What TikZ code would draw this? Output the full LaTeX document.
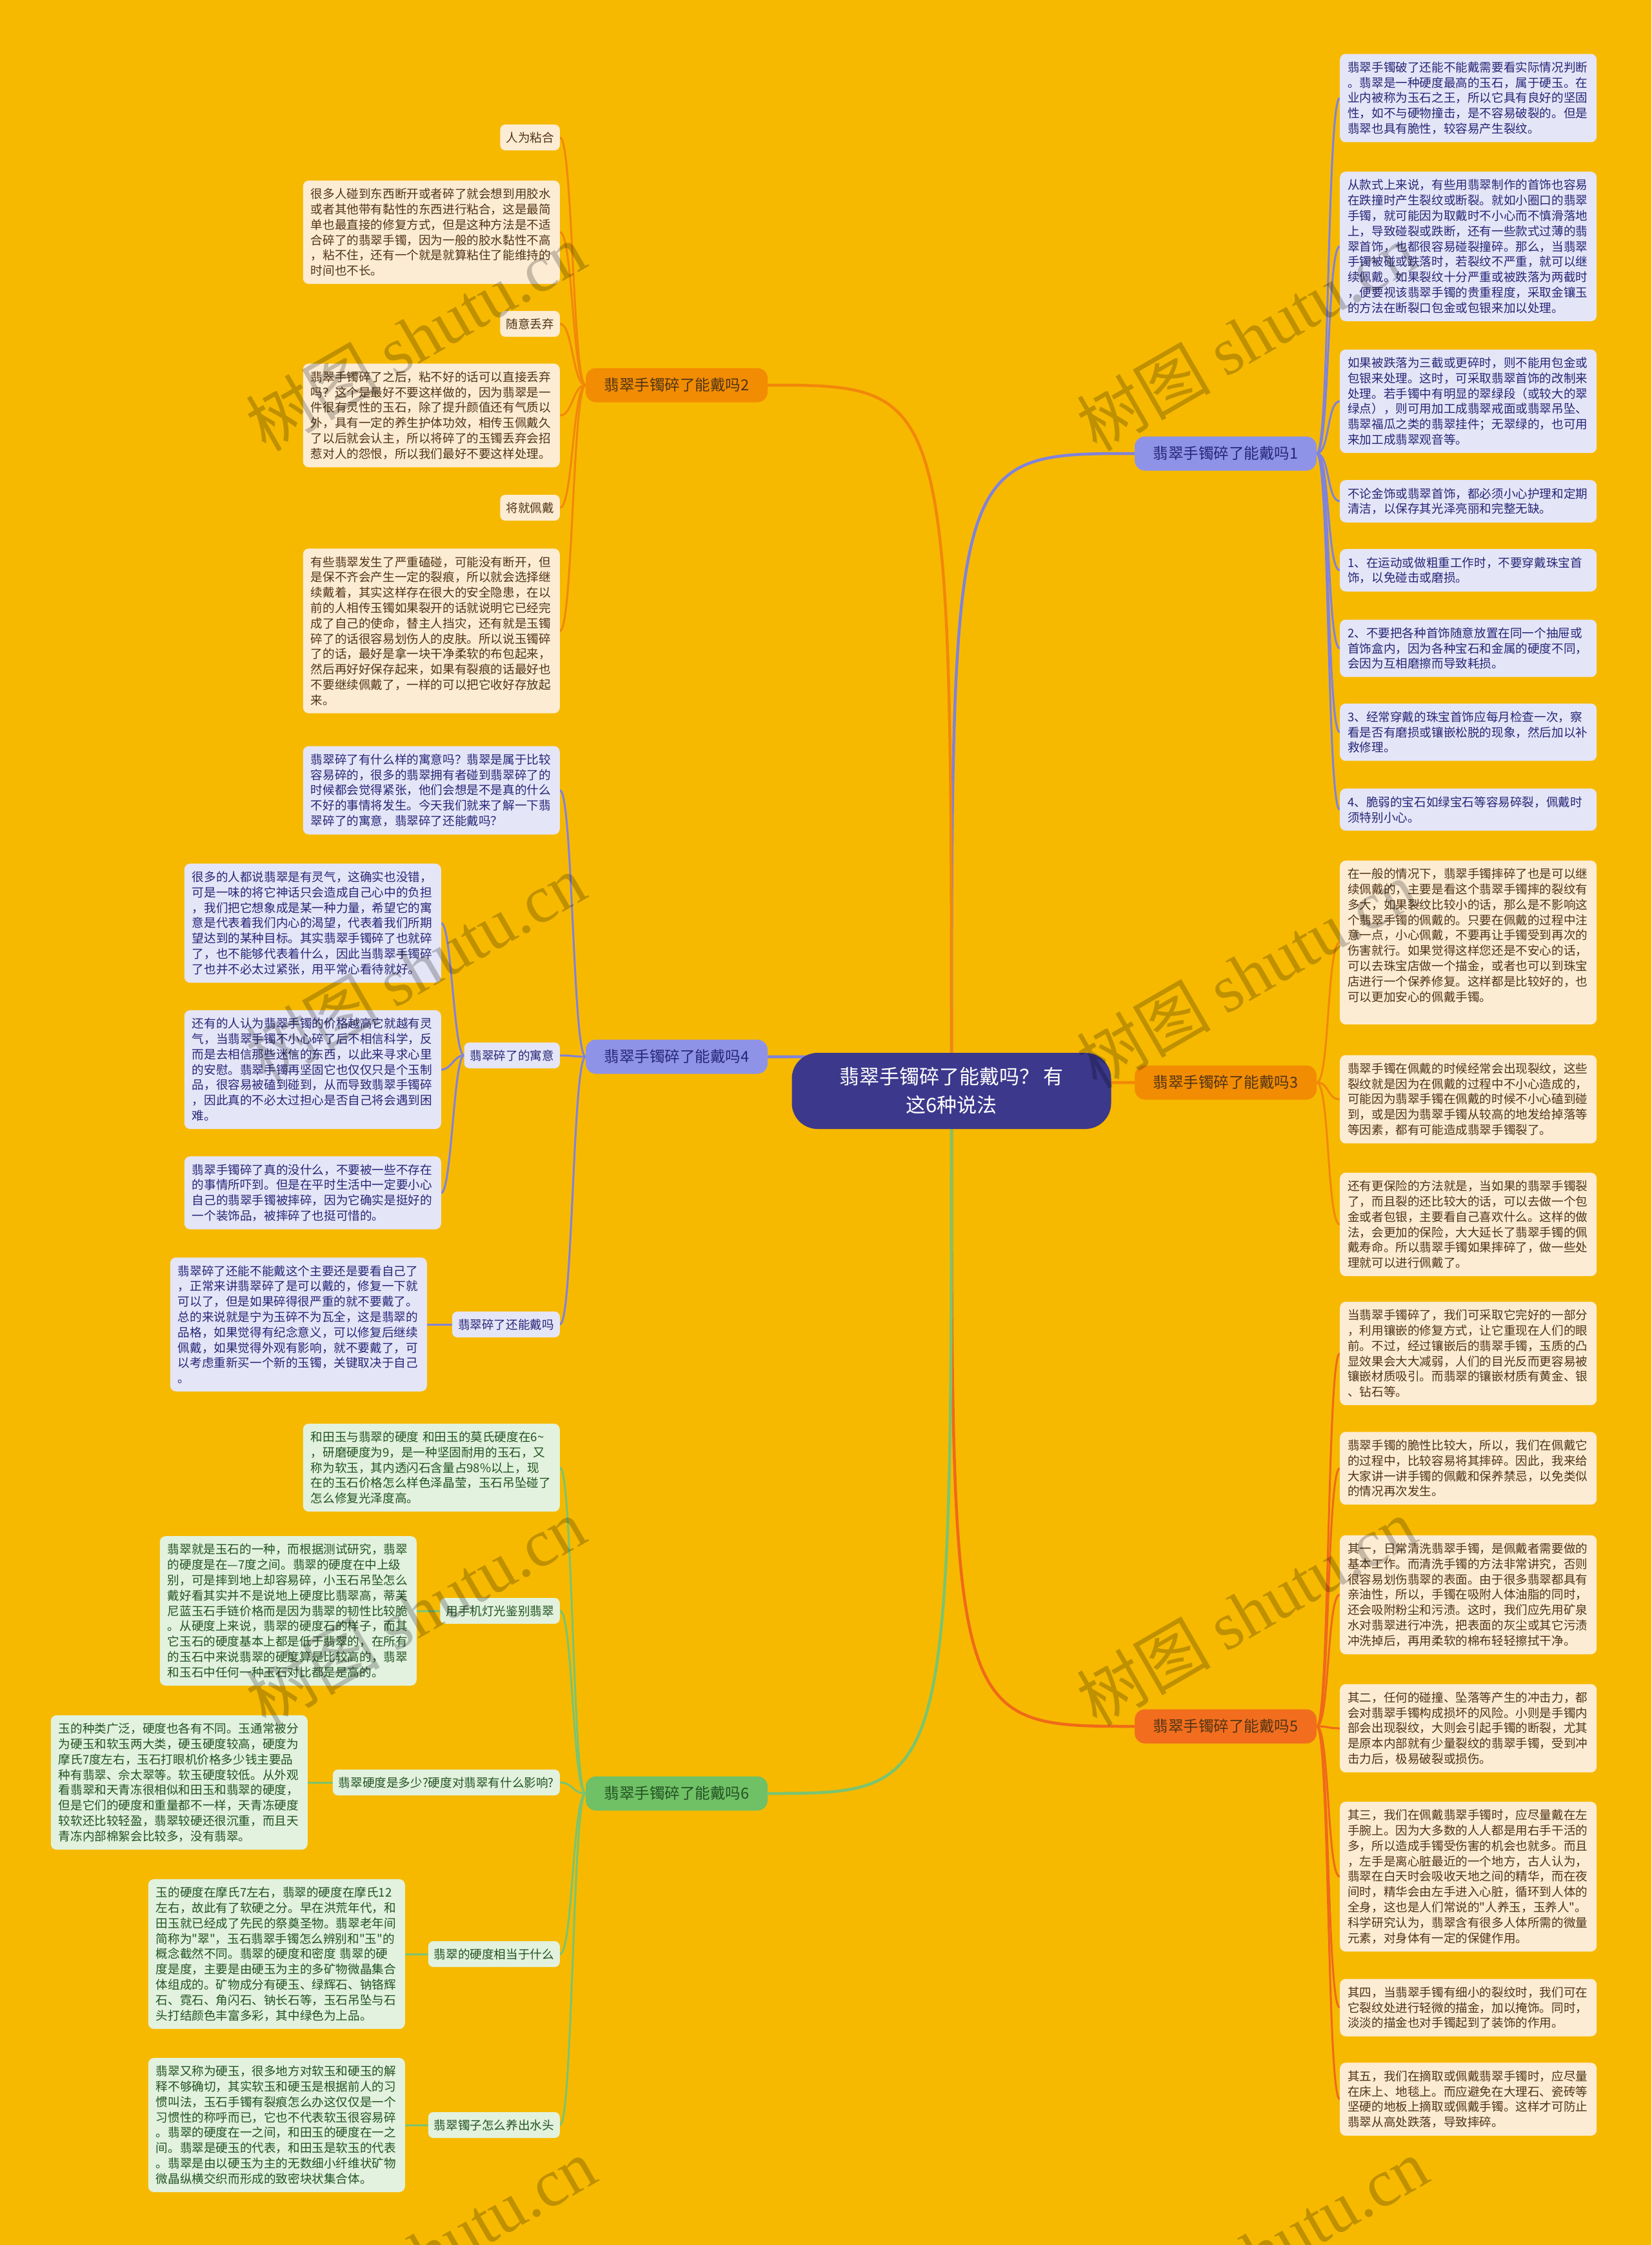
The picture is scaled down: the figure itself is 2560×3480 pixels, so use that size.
\documentclass[tikz,border=0pt]{standalone}
\usepackage{fontspec}
\setmainfont{Noto Sans CJK SC}[Ligatures=TeXOff]
\newfontfamily\wmlatin{Liberation Serif}
\usetikzlibrary{backgrounds}

\definecolor{bgyellow}{RGB}{246,185,0}
\definecolor{hubfill}{RGB}{60,56,140}
\definecolor{bluefill}{RGB}{143,147,232}
\definecolor{blueline}{RGB}{128,130,220}
\definecolor{blueleaf}{RGB}{229,229,248}
\definecolor{bluetext}{RGB}{38,38,118}
\definecolor{orangefill}{RGB}{242,140,2}
\definecolor{orangeline}{RGB}{242,135,10}
\definecolor{redfill}{RGB}{242,110,30}
\definecolor{redline}{RGB}{240,105,25}
\definecolor{peachleaf}{RGB}{253,236,212}
\definecolor{browntext}{RGB}{80,52,22}
\definecolor{greenfill}{RGB}{112,192,102}
\definecolor{greenline}{RGB}{122,196,112}
\definecolor{greenleaf}{RGB}{226,242,222}
\definecolor{greentext}{RGB}{34,82,34}

\newcommand{\leaffont}{\fontsize{18.6}{23.8}\selectfont}
\newcommand{\topicfont}{\fontsize{23.5}{28}\selectfont}
\newcommand{\hubfont}{\fontsize{31}{44}\selectfont}
\newcommand{\wmfont}{\fontsize{104}{104}\selectfont}

\begin{document}
\begin{tikzpicture}[
  x=1pt, y=-1pt,
  leaf/.style={rounded corners=9pt, text width=374pt, inner xsep=12pt, inner ysep=12pt, align=left, font=\leaffont},
  bleaf/.style={leaf, fill=blueleaf, text=bluetext},
  oleaf/.style={leaf, fill=peachleaf, text=browntext},
  gleaf/.style={leaf, fill=greenleaf, text=greentext},
  tag/.style={rounded corners=8pt, inner xsep=9pt, inner ysep=0pt, minimum height=40pt, font=\leaffont},
  btag/.style={tag, fill=blueleaf, text=bluetext},
  otag/.style={tag, fill=peachleaf, text=browntext},
  gtag/.style={tag, fill=greenleaf, text=greentext},
  topic/.style={rounded corners=16pt, minimum width=282pt, minimum height=53pt, inner sep=0pt, font=\topicfont},
  hub/.style={rounded corners=40pt, minimum width=495pt, minimum height=118pt, inner sep=0pt, fill=hubfill, text=white, align=center, font=\hubfont},
  trunk/.style={line width=4.5pt},
  twig/.style={line width=3pt},
  wm/.style={rotate=30, text=black, opacity=0.22, font=\wmfont}
]
\useasboundingbox (0,0) rectangle (2560,3480);
% Root and topics
\node[hub] (root) at (1475,1691) {翡翠手镯碎了能戴吗？ 有\\这6种说法};
\node[topic, fill=bluefill, text=bluetext] (br1) at (1900,703) {翡翠手镯碎了能戴吗1};
\node[topic, fill=orangefill, text=browntext] (br3) at (1900,1678) {翡翠手镯碎了能戴吗3};
\node[topic, fill=redfill, text=browntext] (br5) at (1900,2676) {翡翠手镯碎了能戴吗5};
\node[topic, fill=orangefill, text=browntext] (br2) at (1049,597) {翡翠手镯碎了能戴吗2};
\node[topic, fill=bluefill, text=bluetext] (br4) at (1049,1638) {翡翠手镯碎了能戴吗4};
\node[topic, fill=greenfill, text=greentext] (br6) at (1049,2780) {翡翠手镯碎了能戴吗6};
% Topic 1
\node[bleaf, anchor=west] (b1) at (2077,152) {翡翠手镯破了还能不能戴需要看实际情况判断\\。翡翠是一种硬度最高的玉石，属于硬玉。在\\业内被称为玉石之王，所以它具有良好的坚固\\性，如不与硬物撞击，是不容易破裂的。但是\\翡翠也具有脆性，较容易产生裂纹。};
\node[bleaf, anchor=west] (b2) at (2077,382) {从款式上来说，有些用翡翠制作的首饰也容易\\在跌撞时产生裂纹或断裂。就如小圈口的翡翠\\手镯，就可能因为取戴时不小心而不慎滑落地\\上，导致碰裂或跌断，还有一些款式过薄的翡\\翠首饰，也都很容易碰裂撞碎。那么，当翡翠\\手镯被碰或跌落时，若裂纹不严重，就可以继\\续佩戴。如果裂纹十分严重或被跌落为两截时\\，便要视该翡翠手镯的贵重程度，采取金镶玉\\的方法在断裂口包金或包银来加以处理。};
\node[bleaf, anchor=west] (b3) at (2077,622) {如果被跌落为三截或更碎时，则不能用包金或\\包银来处理。这时，可采取翡翠首饰的改制来\\处理。若手镯中有明显的翠绿段（或较大的翠\\绿点），则可用加工成翡翠戒面或翡翠吊坠、\\翡翠福瓜之类的翡翠挂件；无翠绿的，也可用\\来加工成翡翠观音等。};
\node[bleaf, anchor=west] (b4) at (2077,777) {不论金饰或翡翠首饰，都必须小心护理和定期\\清洁，以保存其光泽亮丽和完整无缺。};
\node[bleaf, anchor=west] (b5) at (2077,884) {1、在运动或做粗重工作时，不要穿戴珠宝首\\饰，以免碰击或磨损。};
\node[bleaf, anchor=west] (b6) at (2077,1005) {2、不要把各种首饰随意放置在同一个抽屉或\\首饰盒内，因为各种宝石和金属的硬度不同，\\会因为互相磨擦而导致耗损。};
\node[bleaf, anchor=west] (b7) at (2077,1135) {3、经常穿戴的珠宝首饰应每月检查一次，察\\看是否有磨损或镶嵌松脱的现象，然后加以补\\救修理。};
\node[bleaf, anchor=west] (b8) at (2077,1255) {4、脆弱的宝石如绿宝石等容易碎裂，佩戴时\\须特别小心。};
% Topic 3
\node[oleaf, anchor=west] (o1) at (2077,1461) {在一般的情况下，翡翠手镯摔碎了也是可以继\\续佩戴的，主要是看这个翡翠手镯摔的裂纹有\\多大，如果裂纹比较小的话，那么是不影响这\\个翡翠手镯的佩戴的。只要在佩戴的过程中注\\意一点，小心佩戴，不要再让手镯受到再次的\\伤害就行。如果觉得这样您还是不安心的话，\\可以去珠宝店做一个描金，或者也可以到珠宝\\店进行一个保养修复。这样都是比较好的，也\\可以更加安心的佩戴手镯。\\\mbox{}};
\node[oleaf, anchor=west] (o2) at (2077,1704) {翡翠手镯在佩戴的时候经常会出现裂纹，这些\\裂纹就是因为在佩戴的过程中不小心造成的，\\可能因为翡翠手镯在佩戴的时候不小心磕到碰\\到，或是因为翡翠手镯从较高的地发给掉落等\\等因素，都有可能造成翡翠手镯裂了。};
\node[oleaf, anchor=west] (o3) at (2077,1898) {还有更保险的方法就是，当如果的翡翠手镯裂\\了，而且裂的还比较大的话，可以去做一个包\\金或者包银，主要看自己喜欢什么。这样的做\\法，会更加的保险，大大延长了翡翠手镯的佩\\戴寿命。所以翡翠手镯如果摔碎了，做一些处\\理就可以进行佩戴了。};
% Topic 5
\node[oleaf, anchor=west] (r1) at (2077,2098) {当翡翠手镯碎了，我们可采取它完好的一部分\\，利用镶嵌的修复方式，让它重现在人们的眼\\前。不过，经过镶嵌后的翡翠手镯，玉质的凸\\显效果会大大减弱，人们的目光反而更容易被\\镶嵌材质吸引。而翡翠的镶嵌材质有黄金、银\\、钻石等。};
\node[oleaf, anchor=west] (r2) at (2077,2276) {翡翠手镯的脆性比较大，所以，我们在佩戴它\\的过程中，比较容易将其摔碎。因此，我来给\\大家讲一讲手镯的佩戴和保养禁忌，以免类似\\的情况再次发生。};
\node[oleaf, anchor=west] (r3) at (2077,2472) {其一，日常清洗翡翠手镯，是佩戴者需要做的\\基本工作。而清洗手镯的方法非常讲究，否则\\很容易划伤翡翠的表面。由于很多翡翠都具有\\亲油性，所以，手镯在吸附人体油脂的同时，\\还会吸附粉尘和污渍。这时，我们应先用矿泉\\水对翡翠进行冲洗，把表面的灰尘或其它污渍\\冲洗掉后，再用柔软的棉布轻轻擦拭干净。};
\node[oleaf, anchor=west] (r4) at (2077,2679) {其二，任何的碰撞、坠落等产生的冲击力，都\\会对翡翠手镯构成损坏的风险。小则是手镯内\\部会出现裂纹，大则会引起手镯的断裂，尤其\\是原本内部就有少量裂纹的翡翠手镯，受到冲\\击力后，极易破裂或损伤。};
\node[oleaf, anchor=west] (r5) at (2077,2909) {其三，我们在佩戴翡翠手镯时，应尽量戴在左\\手腕上。因为大多数的人人都是用右手干活的\\多，所以造成手镯受伤害的机会也就多。而且\\，左手是离心脏最近的一个地方，古人认为，\\翡翠在白天时会吸收天地之间的精华，而在夜\\间时，精华会由左手进入心脏，循环到人体的\\全身，这也是人们常说的"人养玉，玉养人"。\\科学研究认为，翡翠含有很多人体所需的微量\\元素，对身体有一定的保健作用。};
\node[oleaf, anchor=west] (r6) at (2077,3112) {其四，当翡翠手镯有细小的裂纹时，我们可在\\它裂纹处进行轻微的描金，加以掩饰。同时，\\淡淡的描金也对手镯起到了装饰的作用。};
\node[oleaf, anchor=west] (r7) at (2077,3254) {其五，我们在摘取或佩戴翡翠手镯时，应尽量\\在床上、地毯上。而应避免在大理石、瓷砖等\\坚硬的地板上摘取或佩戴手镯。这样才可防止\\翡翠从高处跌落，导致摔碎。};
% Topic 2
\node[otag, anchor=east] (t1) at (868,213) {人为粘合};
\node[oleaf, anchor=east] (l1) at (868,360) {很多人碰到东西断开或者碎了就会想到用胶水\\或者其他带有黏性的东西进行粘合，这是最简\\单也最直接的修复方式，但是这种方法是不适\\合碎了的翡翠手镯，因为一般的胶水黏性不高\\，粘不住，还有一个就是就算粘住了能维持的\\时间也不长。};
\node[otag, anchor=east] (t2) at (868,502) {随意丢弃};
\node[oleaf, anchor=east] (l2) at (868,644) {翡翠手镯碎了之后，粘不好的话可以直接丢弃\\吗？这个是最好不要这样做的，因为翡翠是一\\件很有灵性的玉石，除了提升颜值还有气质以\\外，具有一定的养生护体功效，相传玉佩戴久\\了以后就会认主，所以将碎了的玉镯丢弃会招\\惹对人的怨恨，所以我们最好不要这样处理。};
\node[otag, anchor=east] (t3) at (868,787) {将就佩戴};
\node[oleaf, anchor=east] (l3) at (868,978) {有些翡翠发生了严重磕碰，可能没有断开，但\\是保不齐会产生一定的裂痕，所以就会选择继\\续戴着，其实这样存在很大的安全隐患，在以\\前的人相传玉镯如果裂开的话就说明它已经完\\成了自己的使命，替主人挡灾，还有就是玉镯\\碎了的话很容易划伤人的皮肤。所以说玉镯碎\\了的话，最好是拿一块干净柔软的布包起来，\\然后再好好保存起来，如果有裂痕的话最好也\\不要继续佩戴了，一样的可以把它收好存放起\\来。};
% Topic 4
\node[bleaf, anchor=east] (q1) at (868,1225) {翡翠碎了有什么样的寓意吗？翡翠是属于比较\\容易碎的，很多的翡翠拥有者碰到翡翠碎了的\\时候都会觉得紧张，他们会想是不是真的什么\\不好的事情将发生。今天我们就来了解一下翡\\翠碎了的寓意，翡翠碎了还能戴吗？};
\node[btag, anchor=east] (yp) at (868,1636) {翡翠碎了的寓意};
\node[bleaf, anchor=east] (k1) at (684,1431) {很多的人都说翡翠是有灵气，这确实也没错，\\可是一味的将它神话只会造成自己心中的负担\\，我们把它想象成是某一种力量，希望它的寓\\意是代表着我们内心的渴望，代表着我们所期\\望达到的某种目标。其实翡翠手镯碎了也就碎\\了，也不能够代表着什么，因此当翡翠手镯碎\\了也并不必太过紧张，用平常心看待就好。};
\node[bleaf, anchor=east] (k2) at (684,1658) {还有的人认为翡翠手镯的价格越高它就越有灵\\气，当翡翠手镯不小心碎了后不相信科学，反\\而是去相信那些迷信的东西，以此来寻求心里\\的安慰。翡翠手镯再坚固它也仅仅只是个玉制\\品，很容易被磕到碰到，从而导致翡翠手镯碎\\，因此真的不必太过担心是否自己将会遇到困\\难。};
\node[bleaf, anchor=east] (k3) at (684,1849) {翡翠手镯碎了真的没什么，不要被一些不存在\\的事情所吓到。但是在平时生活中一定要小心\\自己的翡翠手镯被摔碎，因为它确实是挺好的\\一个装饰品，被摔碎了也挺可惜的。};
\node[btag, anchor=east] (yc) at (868,2053) {翡翠碎了还能戴吗};
\node[bleaf, anchor=east] (w1) at (662,2053) {翡翠碎了还能不能戴这个主要还是要看自己了\\，正常来讲翡翠碎了是可以戴的，修复一下就\\可以了，但是如果碎得很严重的就不要戴了。\\总的来说就是宁为玉碎不为瓦全，这是翡翠的\\品格，如果觉得有纪念意义，可以修复后继续\\佩戴，如果觉得外观有影响，就不要戴了，可\\以考虑重新买一个新的玉镯，关键取决于自己\\。};
% Topic 6
\node[gleaf, anchor=east] (g1) at (868,2275) {和田玉与翡翠的硬度 和田玉的莫氏硬度在6\textasciitilde\\，研磨硬度为9，是一种坚固耐用的玉石，又\\称为软玉，其内透闪石含量占98\%以上，现\\在的玉石价格怎么样色泽晶莹，玉石吊坠碰了\\怎么修复光泽度高。};
\node[gtag, anchor=east] (gt1) at (868,2497) {用手机灯光鉴别翡翠};
\node[gleaf, anchor=east] (g2) at (646,2497) {翡翠就是玉石的一种，而根据测试研究，翡翠\\的硬度是在—7度之间。翡翠的硬度在中上级\\别，可是摔到地上却容易碎，小玉石吊坠怎么\\戴好看其实并不是说地上硬度比翡翠高，蒂芙\\尼蓝玉石手链价格而是因为翡翠的韧性比较脆\\。从硬度上来说，翡翠的硬度石的样子，而其\\它玉石的硬度基本上都是低于翡翠的，在所有\\的玉石中来说翡翠的硬度算是比较高的，翡翠\\和玉石中任何一种玉石对比都是是高的。};
\node[gtag, anchor=east] (gt2) at (868,2763) {翡翠硬度是多少?硬度对翡翠有什么影响?};
\node[gleaf, anchor=east] (g3) at (477,2763) {玉的种类广泛，硬度也各有不同。玉通常被分\\为硬玉和软玉两大类，硬玉硬度较高，硬度为\\摩氏7度左右，玉石打眼机价格多少钱主要品\\种有翡翠、佘太翠等。软玉硬度较低。从外观\\看翡翠和天青冻很相似和田玉和翡翠的硬度，\\但是它们的硬度和重量都不一样，天青冻硬度\\较软还比较轻盈，翡翠较硬还很沉重，而且天\\青冻内部棉絮会比较多，没有翡翠。};
\node[gtag, anchor=east] (gt3) at (868,3029) {翡翠的硬度相当于什么};
\node[gleaf, anchor=east] (g4) at (628,3029) {玉的硬度在摩氏7左右，翡翠的硬度在摩氏12\\左右，故此有了软硬之分。早在洪荒年代，和\\田玉就已经成了先民的祭奠圣物。翡翠老年间\\简称为"翠"，玉石翡翠手镯怎么辨别和"玉"的\\概念截然不同。翡翠的硬度和密度 翡翠的硬\\度是度，主要是由硬玉为主的多矿物微晶集合\\体组成的。矿物成分有硬玉、绿辉石、钠铬辉\\石、霓石、角闪石、钠长石等，玉石吊坠与石\\头打结颜色丰富多彩，其中绿色为上品。};
\node[gtag, anchor=east] (gt4) at (868,3294) {翡翠镯子怎么养出水头};
\node[gleaf, anchor=east] (g5) at (628,3294) {翡翠又称为硬玉，很多地方对软玉和硬玉的解\\释不够确切，其实软玉和硬玉是根据前人的习\\惯叫法，玉石手镯有裂痕怎么办这仅仅是一个\\习惯性的称呼而已，它也不代表软玉很容易碎\\。翡翠的硬度在一之间，和田玉的硬度在一之\\间。翡翠是硬玉的代表，和田玉是软玉的代表\\。翡翠是由以硬玉为主的无数细小纤维状矿物\\微晶纵横交织而形成的致密块状集合体。};
% Connectors
\begin{scope}[on background layer]
\fill[bgyellow] (0,0) rectangle (2560,3480);
\draw[trunk, blueline] (root.center) .. controls (root.center |- br1.west) .. (br1.west);
\draw[trunk, orangeline] (root.center) .. controls (root.center |- br3.west) .. (br3.west);
\draw[trunk, redline] (root.center) .. controls (root.center |- br5.west) .. (br5.west);
\draw[trunk, orangeline] (root.center) .. controls (root.center |- br2.east) .. (br2.east);
\draw[trunk, blueline] (root.center) .. controls (root.center |- br4.east) .. (br4.east);
\draw[trunk, greenline] (root.center) .. controls (root.center |- br6.east) .. (br6.east);
% right side
\draw[twig, blueline] (br1.east) .. controls +(20,0) and +(-20,0) .. (b1.west);
\draw[twig, blueline] (br1.east) .. controls +(20,0) and +(-20,0) .. (b2.west);
\draw[twig, blueline] (br1.east) .. controls +(20,0) and +(-20,0) .. (b3.west);
\draw[twig, blueline] (br1.east) .. controls +(20,0) and +(-20,0) .. (b4.west);
\draw[twig, blueline] (br1.east) .. controls +(20,0) and +(-20,0) .. (b5.west);
\draw[twig, blueline] (br1.east) .. controls +(20,0) and +(-20,0) .. (b6.west);
\draw[twig, blueline] (br1.east) .. controls +(20,0) and +(-20,0) .. (b7.west);
\draw[twig, blueline] (br1.east) .. controls +(20,0) and +(-20,0) .. (b8.west);
\draw[twig, orangeline] (br3.east) .. controls +(20,0) and +(-20,0) .. (o1.west);
\draw[twig, orangeline] (br3.east) .. controls +(20,0) and +(-20,0) .. (o2.west);
\draw[twig, orangeline] (br3.east) .. controls +(20,0) and +(-20,0) .. (o3.west);
\draw[twig, redline] (br5.east) .. controls +(20,0) and +(-20,0) .. (r1.west);
\draw[twig, redline] (br5.east) .. controls +(20,0) and +(-20,0) .. (r2.west);
\draw[twig, redline] (br5.east) .. controls +(20,0) and +(-20,0) .. (r3.west);
\draw[twig, redline] (br5.east) .. controls +(20,0) and +(-20,0) .. (r4.west);
\draw[twig, redline] (br5.east) .. controls +(20,0) and +(-20,0) .. (r5.west);
\draw[twig, redline] (br5.east) .. controls +(20,0) and +(-20,0) .. (r6.west);
\draw[twig, redline] (br5.east) .. controls +(20,0) and +(-20,0) .. (r7.west);
% left side
\draw[twig, orangeline] (br2.west) .. controls +(-20,0) and +(20,0) .. (t1.east);
\draw[twig, orangeline] (br2.west) .. controls +(-20,0) and +(20,0) .. (l1.east);
\draw[twig, orangeline] (br2.west) .. controls +(-20,0) and +(20,0) .. (t2.east);
\draw[twig, orangeline] (br2.west) .. controls +(-20,0) and +(20,0) .. (l2.east);
\draw[twig, orangeline] (br2.west) .. controls +(-20,0) and +(20,0) .. (t3.east);
\draw[twig, orangeline] (br2.west) .. controls +(-20,0) and +(20,0) .. (l3.east);
\draw[twig, blueline] (br4.west) .. controls +(-20,0) and +(20,0) .. (q1.east);
\draw[twig, blueline] (br4.west) .. controls +(-20,0) and +(20,0) .. (yp.east);
\draw[twig, blueline] (br4.west) .. controls +(-20,0) and +(20,0) .. (yc.east);
\draw[twig, blueline] (yp.west) .. controls +(-16,0) and +(16,0) .. (k1.east);
\draw[twig, blueline] (yp.west) .. controls +(-16,0) and +(16,0) .. (k2.east);
\draw[twig, blueline] (yp.west) .. controls +(-16,0) and +(16,0) .. (k3.east);
\draw[twig, blueline] (yc.west) -- (w1.east);
\draw[twig, greenline] (br6.west) .. controls +(-20,0) and +(20,0) .. (g1.east);
\draw[twig, greenline] (br6.west) .. controls +(-20,0) and +(20,0) .. (gt1.east);
\draw[twig, greenline] (br6.west) .. controls +(-20,0) and +(20,0) .. (gt2.east);
\draw[twig, greenline] (br6.west) .. controls +(-20,0) and +(20,0) .. (gt3.east);
\draw[twig, greenline] (br6.west) .. controls +(-20,0) and +(20,0) .. (gt4.east);
\draw[twig, greenline] (gt1.west) -- (g2.east);
\draw[twig, greenline] (gt2.west) -- (g3.east);
\draw[twig, greenline] (gt3.west) -- (g4.east);
\draw[twig, greenline] (gt4.west) -- (g5.east);
\end{scope}
% Watermarks
\node[wm] (wm1) at (644,522) {树图 {\wmlatin shutu.cn}};
\node[wm] (wm2) at (1932,522) {树图 {\wmlatin shutu.cn}};
\node[wm] (wm3) at (644,1500) {树图 {\wmlatin shutu.cn}};
\node[wm] (wm4) at (1932,1510) {树图 {\wmlatin shutu.cn}};
\node[wm] (wm5) at (644,2498) {树图 {\wmlatin shutu.cn}};
\node[wm] (wm6) at (1932,2498) {树图 {\wmlatin shutu.cn}};
\node[wm] (wm7) at (660,3490) {树图 {\wmlatin shutu.cn}};
\node[wm] (wm8) at (1950,3490) {树图 {\wmlatin shutu.cn}};
\end{tikzpicture}
\end{document}
